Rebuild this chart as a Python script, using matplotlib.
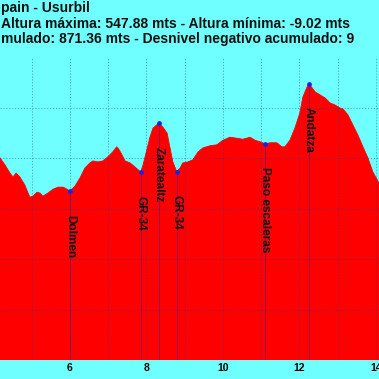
import matplotlib.pyplot as plt

# perfil de altura (km, metros)
km = [4.00, 4.17, 4.30, 4.43, 4.51, 4.59, 4.69, 4.82, 4.95, 5.03, 5.14, 5.22,
      5.29, 5.42, 5.56, 5.69, 5.82, 5.92, 6.00, 6.13, 6.26, 6.39, 6.52, 6.60,
      6.73, 6.86, 6.99, 7.12, 7.22, 7.27, 7.36, 7.44, 7.57, 7.70, 7.85, 7.91,
      8.01, 8.09, 8.17, 8.32, 8.43, 8.54, 8.61, 8.69, 8.79, 8.88, 8.95, 9.08,
      9.21, 9.35, 9.48, 9.66, 9.84, 10.00, 10.18, 10.37, 10.52, 10.71, 10.84,
      10.97, 11.10, 11.23, 11.41, 11.54, 11.62, 11.75, 11.88, 12.01, 12.09,
      12.20, 12.25, 12.33, 12.41, 12.54, 12.67, 12.80, 12.93, 13.06, 13.14,
      13.27, 13.40, 13.53, 13.66, 13.79, 13.92, 14.08, 14.20]
altura = [420, 401, 387, 371, 363, 371, 363, 347, 323, 325, 333, 331,
          325, 331, 339, 343, 343, 339, 335, 345, 361, 381, 391, 395,
          393, 395, 403, 413, 423, 419, 407, 395, 391, 383, 373, 387,
          417, 442, 460, 470, 462, 450, 423, 393, 374, 381, 391, 393,
          397, 413, 421, 425, 427, 436, 442, 440, 438, 442, 436,
          433, 429, 431, 431, 423, 423, 436, 460, 490, 522,
          542, 548, 540, 532, 526, 520, 510, 506, 500, 498,
          486, 466, 446, 423, 401, 373, 351, 330]

# puntos de paso
wp_km = [6.00, 7.85, 8.32, 8.79, 11.10, 12.25]
wp_alt = [335, 373, 470, 374, 429, 548]
wp_nombre = ["Dolmen", "GR-34", "Zaratealtz", "GR-34", "Paso escaleras", "Andatza"]

titulo = ["pain - Usurbil",
          "Altura máxima: 547.88 mts - Altura mínima: -9.02 mts",
          "mulado: 871.36 mts - Desnivel negativo acumulado: 9"]

plt.rcParams['font.family'] = ['Liberation Sans', 'DejaVu Sans']
fondo = '#6FFFFF'

fig = plt.figure(figsize=(3.79, 3.79), dpi=100)
fig.patch.set_facecolor(fondo)
ax = fig.add_axes([0, 19 / 379, 1, (360 - 57.6) / 379])
ax.set_facecolor(fondo)

ax.fill_between(km, altura, 0, color='#FF0000', lw=0, zorder=1)
ax.plot(km, altura, color='#FF0000', lw=0.6, zorder=1)

ax.set_xlim(4.17, 14.08)
ax.set_ylim(0, 600)
ax.set_xticks(range(5, 15))
ax.set_xticklabels([str(k) if k % 2 == 0 else "" for k in range(5, 15)],
                   fontsize=7.5, fontweight='bold')
ax.set_yticks(range(0, 600, 100))
ax.tick_params(axis='x', length=0, pad=2)
ax.tick_params(axis='y', length=0, labelleft=False)
ax.grid(True, ls=(0, (1.2, 1.8)), lw=0.7, color='#1040a0', alpha=0.45, zorder=2)
ax.set_axisbelow(False)
for s in ax.spines.values():
    s.set_visible(False)

for x, y, nombre in zip(wp_km, wp_alt, wp_nombre):
    ax.plot([x, x], [0, y], color='#3020a0', lw=0.6, alpha=0.6, zorder=3)
    ax.plot(x, y, 'o', ms=2.4, color='#2020e0', zorder=4)
    ax.annotate(nombre, (x, y), xytext=(0, -17), textcoords='offset points',
                rotation=270, ha='center', va='top', fontsize=8.5,
                fontweight='bold', color='#101010', zorder=5)

for i, t in enumerate(titulo):
    fig.text(1 / 379, 1 - (8 + 15.5 * i) / 379, t, ha='left', va='center',
             fontsize=10, fontweight='bold', color='#101010')

fig.savefig('out.png', dpi=100, facecolor=fondo)
